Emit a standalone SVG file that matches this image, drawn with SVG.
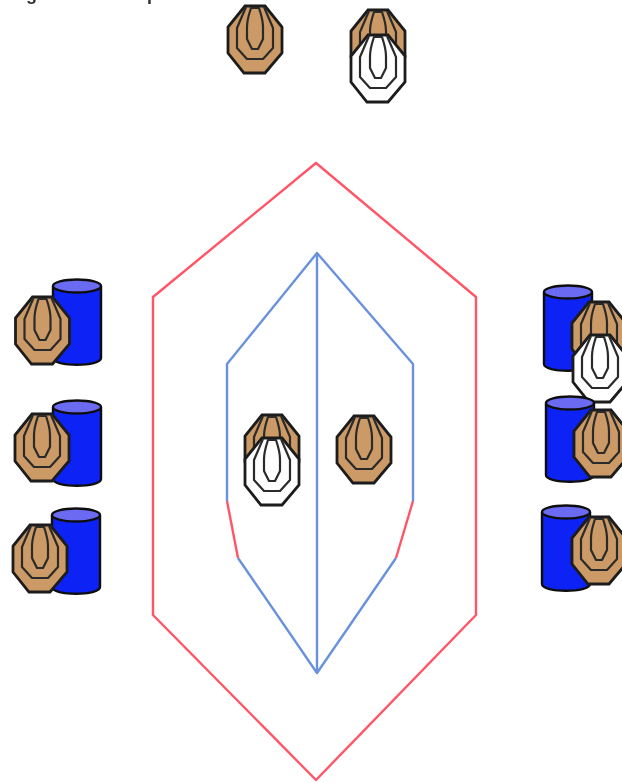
<svg xmlns="http://www.w3.org/2000/svg" width="622" height="783" viewBox="0 0 622 783">
<style>
.red{fill:none;stroke:#ff5566;stroke-width:2.400;stroke-linejoin:round}
.blue{fill:none;stroke:#6a92dc;stroke-width:2.400;stroke-linejoin:round}
.t{stroke:#1c1c1c;stroke-width:2.800;stroke-linejoin:miter}
.r{stroke:#2c2c2c;stroke-width:2.200;fill:none;stroke-linejoin:round}
.brown{fill:#cc9a66}
.white{fill:#fff}
.can{fill:#0a22f5;stroke:#111;stroke-width:2.400}
.lid{fill:#6a6af2;stroke:#111;stroke-width:2.400}
.cut{font-family:"Liberation Sans",Arial,sans-serif;font-size:18px;font-weight:bold;fill:#333}
</style>
<defs>
<filter id="soft" x="0" y="0" width="622" height="783" filterUnits="userSpaceOnUse"><feGaussianBlur stdDeviation="0.550"/></filter>
<g id="rings">
<path class="r" d="M-9-33L-18-12V8L-8 19H8L18 8V-12L9-33"/>
<path class="r" d="M-4-32H4C6-26 8-19 8-13V-1L3 9H-3L-8-1V-13C-8-19-6-26-4-32Z"/>
</g>
<path id="oct" d="M-10-34H10L27-13V13L10 33H-11L-27 13V-13Z"/>
<g id="bt"><use href="#oct" class="t brown"/><use href="#rings"/></g>
<g id="wt"><use href="#oct" class="t white"/><use href="#rings"/></g>
<g id="can"><path class="can" d="M-24-36V36C-24 45 24 45 24 36V-36"/><ellipse class="lid" cx="0" cy="-36" rx="24" ry="6.500"/></g>
</defs>
<g filter="url(#soft)">
<text class="cut" x="26" y="0">g</text>
<text class="cut" x="147" y="0">p</text>
<g id="connectors">
<path class="red" d="M316 163L476 297V615L316 780L153 615V297Z"/>
<path class="blue" d="M227 501V364L317 253L413 364V501"/>
<path class="blue" d="M396 558L317 673L238 558"/>
<path class="blue" d="M317 253V673"/>
<path class="red" d="M227 501L238 558"/>
<path class="red" d="M413 501L396 558"/>
</g>
<g id="top-a"><use href="#bt" x="255" y="40"/></g>
<g id="top-b"><use href="#bt" x="378" y="44"/><use href="#wt" x="378" y="69"/></g>
<g id="left-1"><use href="#can" x="77" y="322"/><use href="#bt" x="42.500" y="331"/></g>
<g id="left-2"><use href="#can" x="77" y="443"/><use href="#bt" x="42" y="448"/></g>
<g id="left-3"><use href="#can" x="76" y="551"/><use href="#bt" x="40" y="559"/></g>
<g id="right-1"><use href="#can" x="568" y="328"/><use href="#bt" x="599" y="336"/><use href="#wt" x="600" y="369"/></g>
<g id="right-2"><use href="#can" x="570" y="439"/><use href="#bt" x="601" y="444"/></g>
<g id="right-3"><use href="#can" x="566" y="548"/><use href="#bt" x="599" y="551"/></g>
<g id="center-a"><use href="#bt" x="272" y="449"/><use href="#wt" x="272" y="472"/></g>
<g id="center-b"><use href="#bt" x="364" y="450"/></g>
</g>
</svg>
